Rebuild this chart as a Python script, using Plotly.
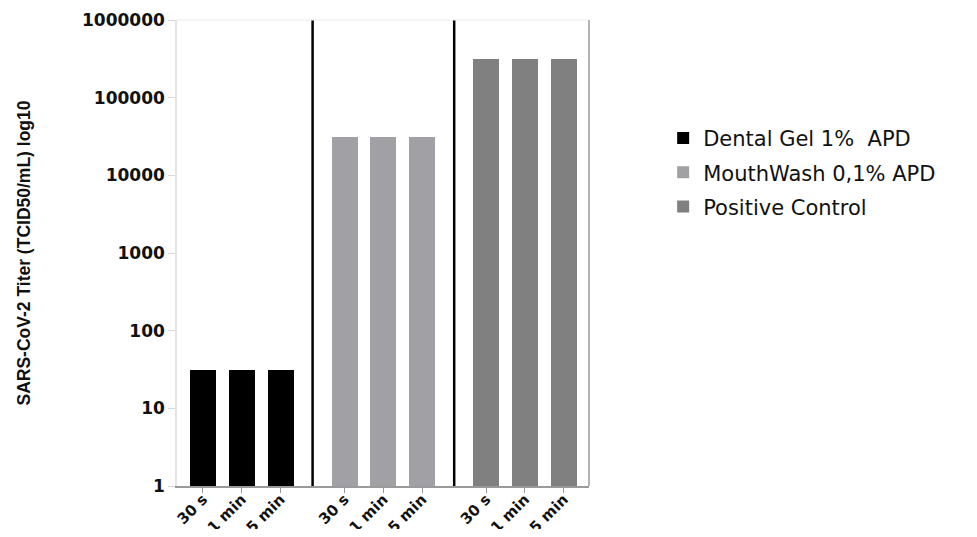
import plotly.graph_objects as go

# ---- data ----
time_labels = ["30 s", "1 min", "5 min"]
series_names = ["Dental Gel 1%  APD", "MouthWash 0,1% APD", "Positive Control"]
dental_gel = [31.6, 31.6, 31.6]
mouthwash = [31600, 31600, 31600]
positive_control = [316000, 316000, 316000]
y_tick_values = [1, 10, 100, 1000, 10000, 100000, 1000000]
y_tick_labels = ["1", "10", "100", "1000", "10000", "100000", "1000000"]

series_values = [dental_gel, mouthwash, positive_control]
colors = ["#000000", "#a1a1a5", "#808080"]

group_step = 3.65  # distance between first bars of consecutive groups (x units)
bar_width = 0.67

fig = go.Figure()
tickvals, ticktext = [], []
for g, (name, vals, col) in enumerate(zip(series_names, series_values, colors)):
    xs = [g * group_step + i for i in range(len(time_labels))]
    tickvals += xs
    ticktext += time_labels
    fig.add_trace(go.Bar(
        x=xs, y=vals, name=name, width=bar_width,
        marker=dict(color=col, line=dict(width=0)),
        legendgroup=f"g{g}",
    ))

# separators between groups
shapes = []
for g in range(1, len(series_names)):
    sep = (g * group_step + (g - 1) * group_step + 2) / 2
    shapes.append(dict(type="line", xref="x", yref="paper", x0=sep, x1=sep,
                       y0=0, y1=1, line=dict(color="#000000", width=2.5)))
# top and right frame lines
shapes.append(dict(type="line", xref="paper", yref="paper", x0=0, x1=1, y0=1, y1=1,
                   line=dict(color="#ececec", width=1)))
shapes.append(dict(type="line", xref="paper", yref="paper", x0=1, x1=1, y0=0, y1=1,
                   line=dict(color="#9a9a9a", width=1.5)))

xmin = -0.67
xmax = 2 * group_step + 2 + 0.65

fig.update_layout(
    width=961, height=521,
    margin=dict(l=169, r=380, t=12, b=43, autoexpand=False),
    plot_bgcolor="white", paper_bgcolor="white",
    showlegend=True,
    bargap=0,
    shapes=shapes,
    legend=dict(x=1.18, y=0.79, xanchor="left", yanchor="top",
                font=dict(family="DejaVu Sans", size=21, color="#111111"),
                traceorder="grouped", tracegroupgap=4,
                bgcolor="rgba(0,0,0,0)"),
    xaxis=dict(
        range=[xmin, xmax], tickmode="array", tickvals=tickvals, ticktext=ticktext,
        tickangle=-45, ticks="outside", ticklen=5, tickcolor="#9a9a9a",
        ticklabelstandoff=-8,
        showline=True, linecolor="#9a9a9a", linewidth=1.5, showgrid=False, zeroline=False,
        tickfont=dict(family="DejaVu Sans", size=15, color="#111111", weight="bold"),
        automargin=False,
    ),
    yaxis=dict(
        type="log", range=[0, 6], tickmode="array", tickvals=y_tick_values,
        ticktext=y_tick_labels, ticks="outside", ticklen=7, tickcolor="#d8d8d8",
        showline=True, linecolor="#e4e4e4", linewidth=1.5, showgrid=False, zeroline=False,
        tickfont=dict(family="DejaVu Sans", size=17, color="#111111", weight="bold"),
        title=dict(text="SARS-CoV-2 Titer (TCID50/mL) log10", standoff=47,
                   font=dict(family="Liberation Sans", size=17.5, color="#111111", weight="bold")),
        automargin=False,
    ),
)

fig.write_html("out.html")
